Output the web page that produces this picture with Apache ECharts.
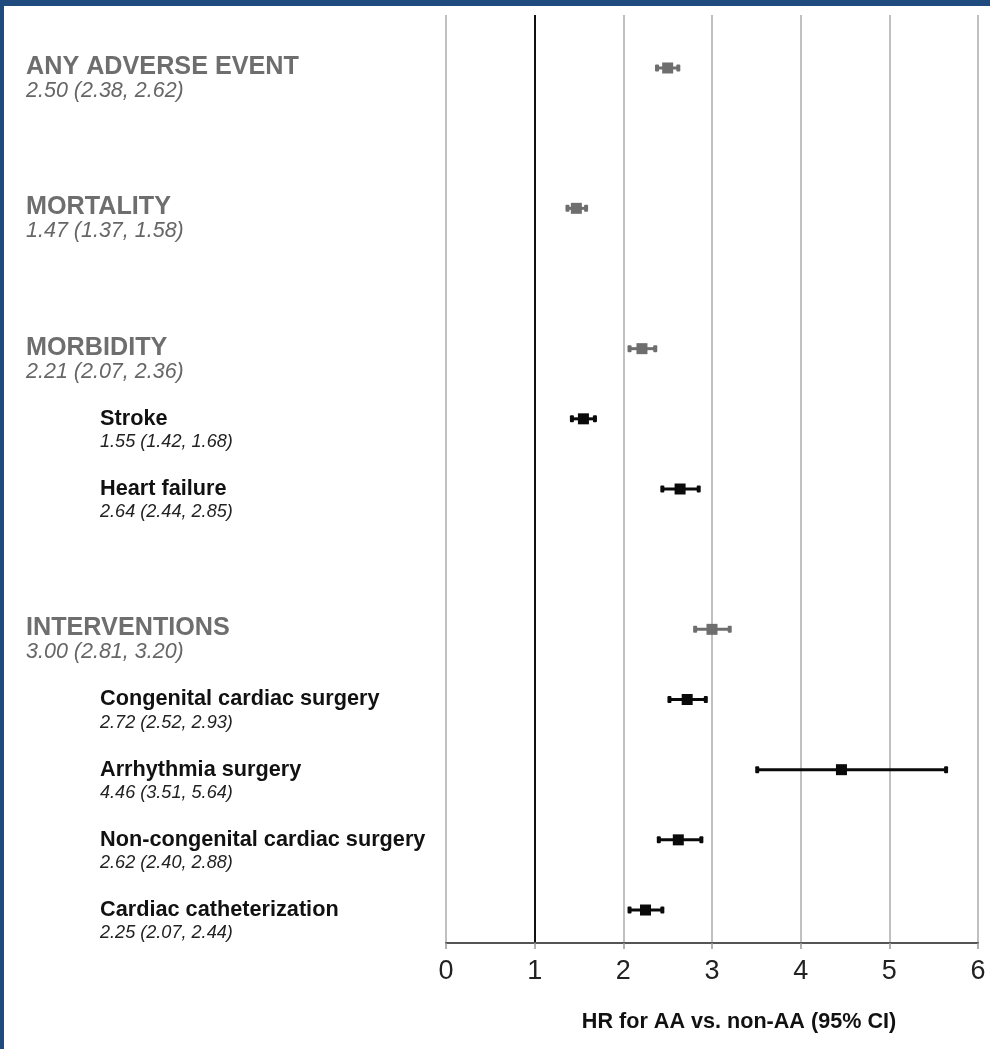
<!DOCTYPE html>
<html>
<head>
<meta charset="utf-8">
<script src="https://cdn.jsdelivr.net/npm/echarts@6/dist/echarts.min.js"></script>
<style>
html,body{margin:0;padding:0;background:#fff;}
#chart{width:990px;height:1049px;}
</style>
</head>
<body>
<div id="chart"></div>
<script>
// ---- data ----
const labels = ['ANY ADVERSE EVENT','MORTALITY','MORBIDITY','Stroke','Heart failure','INTERVENTIONS','Congenital cardiac surgery','Arrhythmia surgery','Non-congenital cardiac surgery','Cardiac catheterization'];
const valueTexts = ['2.50 (2.38, 2.62)','1.47 (1.37, 1.58)','2.21 (2.07, 2.36)','1.55 (1.42, 1.68)','2.64 (2.44, 2.85)','3.00 (2.81, 3.20)','2.72 (2.52, 2.93)','4.46 (3.51, 5.64)','2.62 (2.40, 2.88)','2.25 (2.07, 2.44)'];
const rowIndex = [0, 2, 4, 5, 6, 8, 9, 10, 11, 12];
const hr = [2.50, 1.47, 2.21, 1.55, 2.64, 3.00, 2.72, 4.46, 2.62, 2.25];
const ciLow = [2.38, 1.37, 2.07, 1.42, 2.44, 2.81, 2.52, 3.51, 2.40, 2.07];
const ciHigh = [2.62, 1.58, 2.36, 1.68, 2.85, 3.20, 2.93, 5.64, 2.88, 2.44];
const isSub = [0, 0, 0, 1, 1, 0, 1, 1, 1, 1];
const xTicks = [0, 1, 2, 3, 4, 5, 6];
const axisTitle = 'HR for AA vs. non-AA (95% CI)';

const FONT = '"Liberation Sans", Arial, Helvetica, sans-serif';
const GRAY = '#6e6e6e';
const BLACK = '#0a0a0a';

const seriesData = hr.map((v, i) => [v, ciLow[i], ciHigh[i], rowIndex[i], isSub[i], i]);

const chart = echarts.init(document.getElementById('chart'), null, {renderer: 'canvas'});

function renderItem(params, api) {
  const v = api.value(0), lo = api.value(1), hi = api.value(2), row = api.value(3), sub = api.value(4), idx = api.value(5);
  const c = api.coord([v, row]);
  const pl = api.coord([lo, row]);
  const ph = api.coord([hi, row]);
  const y = c[1];
  const col = sub ? BLACK : GRAY;
  const children = [];
  children.push({type: 'line', shape: {x1: pl[0], y1: y, x2: ph[0], y2: y}, style: {stroke: col, lineWidth: 3}});
  children.push({type: 'rect', shape: {x: pl[0] - 2, y: y - 3.5, width: 4, height: 7, r: 1}, style: {fill: col}});
  children.push({type: 'rect', shape: {x: ph[0] - 2, y: y - 3.5, width: 4, height: 7, r: 1}, style: {fill: col}});
  children.push({type: 'rect', shape: {x: c[0] - 5.5, y: y - 5.5, width: 11, height: 11}, style: {fill: col}});
  if (sub) {
    children.push({type: 'text', x: 100, y: y, style: {text: labels[idx], font: 'bold 21.7px ' + FONT, fill: '#111', verticalAlign: 'middle'}});
    children.push({type: 'text', x: 100, y: y + 23, style: {text: valueTexts[idx], font: 'italic 18.1px ' + FONT, fill: '#222', verticalAlign: 'middle'}});
  } else {
    children.push({type: 'text', x: 26, y: y - 1, style: {text: labels[idx], font: 'bold 25.2px ' + FONT, fill: GRAY, verticalAlign: 'middle'}});
    children.push({type: 'text', x: 26, y: y + 23, style: {text: valueTexts[idx], font: 'italic 21.5px ' + FONT, fill: '#666', verticalAlign: 'middle'}});
  }
  return {type: 'group', children: children};
}

const option = {
  backgroundColor: '#ffffff',
  animation: false,
  grid: {left: 446, right: 12, top: 15, bottom: 106, containLabel: false},
  xAxis: {
    type: 'value', min: xTicks[0], max: xTicks[xTicks.length - 1], interval: 1,
    axisLine: {show: true, onZero: false, lineStyle: {color: '#555', width: 2}},
    axisTick: {show: true, length: 6, lineStyle: {color: '#999', width: 1.5}},
    axisLabel: {fontSize: 27, color: '#222', fontFamily: FONT, margin: 15},
    splitLine: {show: true, lineStyle: {color: ['#c0c0c0', '#111', '#c0c0c0', '#c0c0c0', '#c0c0c0', '#c0c0c0', '#c0c0c0'], width: 2}},
    name: axisTitle, nameLocation: 'middle', nameGap: 68,
    nameTextStyle: {fontSize: 21.6, fontWeight: 'bold', color: '#111', fontFamily: FONT, padding: [0, 0, 0, 54]}
  },
  yAxis: {type: 'value', inverse: true, min: -0.755, max: 12.47, show: false, splitLine: {show: false}},
  series: [{
    type: 'custom', renderItem: renderItem, data: seriesData, clip: false,
    encode: {x: [0, 1, 2], y: 3}
  }],
  graphic: [
    {type: 'rect', left: 0, top: 0, shape: {width: 990, height: 6}, style: {fill: '#1f4a7e'}, z: 100},
    {type: 'rect', left: 0, top: 0, shape: {width: 4, height: 1049}, style: {fill: '#1f4a7e'}, z: 100}
  ]
};
chart.setOption(option);
</script>
</body>
</html>
